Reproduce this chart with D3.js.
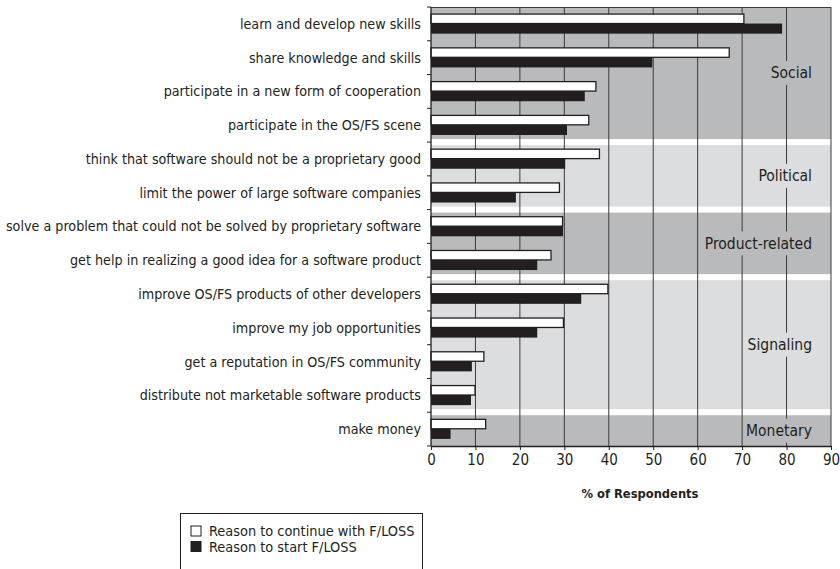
<!DOCTYPE html>
<head><meta charset="utf-8"/></head>
<style>
body { margin: 0; background: #fff; }
svg { font-family: "DejaVu Sans Condensed", sans-serif; }
.cat { font-size: 14.2px; fill: #231f20; }
.grp { font-size: 15.5px; fill: #231f20; }
.tick text { font-size: 15px; fill: #231f20; font-family: "DejaVu Sans Condensed", sans-serif; }
</style>
<script src="https://d3js.org/d3.v7.min.js"></script>
<body>
<div id="chart"></div>
</body>
<script>

var categories = [
    "learn and develop new skills",
    "share knowledge and skills",
    "participate in a new form of cooperation",
    "participate in the OS/FS scene",
    "think that software should not be a proprietary good",
    "limit the power of large software companies",
    "solve a problem that could not be solved by proprietary software",
    "get help in realizing a good idea for a software product",
    "improve OS/FS products of other developers",
    "improve my job opportunities",
    "get a reputation in OS/FS community",
    "distribute not marketable software products",
    "make money"
];
var continueVals = [70.4, 67.1, 37.1, 35.5, 37.9, 28.9, 29.6, 27.0, 39.8, 29.8, 11.9, 9.9, 12.3];
var startVals    = [79.0, 49.8, 34.6, 30.6, 30.2, 19.1, 29.7, 23.9, 33.8, 23.9, 9.2, 9.0, 4.4];

var groupNames = ["Social", "Political", "Product-related", "Signaling", "Monetary"];
var groupSizes = [4, 2, 2, 4, 1];
var xTicks = [0, 10, 20, 30, 40, 50, 60, 70, 80, 90];
var seriesNames = ["Reason to continue with F/LOSS", "Reason to start F/LOSS"];

var width = 840, height = 569;
var pLeft = 431, pRight = 831, pTop = 7, pBottom = 446;
var dark = "#b9babc", light = "#dcdddf", ink = "#231f20";

var svg = d3.select("#chart").append("svg")
    .attr("width", width)
    .attr("height", height);

var x = d3.scaleLinear().domain([0, 90]).range([pLeft, pRight]);
var y = d3.scaleBand().domain(categories).range([pTop, pBottom]);
var bw = y.bandwidth();

// group backgrounds
var groups = [];
var idx = 0;
groupNames.forEach(function(g, i) {
    groups.push({name: g, first: idx, last: idx + groupSizes[i] - 1, fill: i % 2 == 0 ? dark : light});
    idx += groupSizes[i];
});

function gTop(g) { return g.first == 0 ? pTop : y(categories[g.first]) + 3; }
function gBot(g) { return g.last == categories.length - 1 ? pBottom : y(categories[g.last]) + bw - 3; }

svg.selectAll(".bg")
    .data(groups)
    .enter().append("rect")
    .attr("class", "bg")
    .attr("x", pLeft)
    .attr("width", pRight - pLeft)
    .attr("y", gTop)
    .attr("height", function(g) { return gBot(g) - gTop(g); })
    .attr("fill", function(g) { return g.fill; });

// gridlines
svg.selectAll(".grid")
    .data(xTicks.slice(1))
    .enter().append("line")
    .attr("class", "grid")
    .attr("x1", x).attr("x2", x)
    .attr("y1", pTop).attr("y2", pBottom)
    .attr("stroke", "#3a3a3a")
    .attr("stroke-width", 1);

svg.append("line")
    .attr("x1", pLeft).attr("x2", pRight)
    .attr("y1", pTop + 0.5).attr("y2", pTop + 0.5)
    .attr("stroke", "#3a3a3a");

// group labels with a patch of background behind them
var gl = svg.selectAll(".glabel")
    .data(groups)
    .enter().append("g")
    .attr("class", "glabel")
    .attr("transform", function(g) { return "translate(812," + ((gTop(g) + gBot(g)) / 2) + ")"; });

gl.append("text")
    .attr("class", "grp")
    .attr("text-anchor", "end")
    .attr("dy", "0.35em")
    .text(function(g) { return g.name; });

gl.each(function(g) {
    var t = d3.select(this).select("text");
    var b = t.node().getBBox();
    d3.select(this).insert("rect", "text")
        .attr("x", b.x - 3).attr("width", b.width + 6)
        .attr("y", -12).attr("height", 24)
        .attr("fill", g.fill);
});

// bars
var rows = categories.map(function(c, i) { return {cat: c, cont: continueVals[i], start: startVals[i]}; });

svg.selectAll(".cont")
    .data(rows)
    .enter().append("rect")
    .attr("class", "cont")
    .attr("x", x(0))
    .attr("y", function(d) { return y(d.cat) + bw * 0.21; })
    .attr("width", function(d) { return x(d.cont) - x(0); })
    .attr("height", bw * 0.28)
    .attr("fill", "#fff")
    .attr("stroke", ink)
    .attr("stroke-width", 1.3);

svg.selectAll(".start")
    .data(rows)
    .enter().append("rect")
    .attr("class", "start")
    .attr("x", x(0))
    .attr("y", function(d) { return y(d.cat) + bw * 0.49; })
    .attr("width", function(d) { return x(d.start) - x(0); })
    .attr("height", bw * 0.3)
    .attr("fill", ink);

// left axis
svg.append("line")
    .attr("x1", pLeft).attr("x2", pLeft)
    .attr("y1", pTop).attr("y2", pBottom)
    .attr("stroke", ink).attr("stroke-width", 1.3);

var bounds = categories.map(function(c) { return y(c); }).concat([pBottom]);
svg.selectAll(".ytick")
    .data(bounds)
    .enter().append("line")
    .attr("class", "ytick")
    .attr("x1", pLeft - 4).attr("x2", pLeft)
    .attr("y1", function(d) { return d; }).attr("y2", function(d) { return d; })
    .attr("stroke", ink);

svg.selectAll(".cat")
    .data(categories)
    .enter().append("text")
    .attr("class", "cat")
    .attr("x", 421)
    .attr("y", function(c) { return y(c) + bw / 2; })
    .attr("dy", "0.35em")
    .attr("text-anchor", "end")
    .text(function(c) { return c; });

// bottom axis
var xAxis = svg.append("g")
    .attr("transform", "translate(0," + pBottom + ")")
    .call(d3.axisBottom(x).tickValues(xTicks).tickSize(4).tickPadding(4).tickSizeOuter(0));
xAxis.select(".domain").attr("stroke", ink).attr("stroke-width", 1.3);
xAxis.selectAll(".tick line").attr("stroke", ink);

svg.append("text")
    .attr("x", 640)
    .attr("y", 498)
    .attr("text-anchor", "middle")
    .style("font-size", "12.8px")
    .style("font-weight", "bold")
    .style("fill", ink)
    .text("% of Respondents");

// legend
var legend = svg.append("g").attr("transform", "translate(180,513)");
legend.append("rect")
    .attr("x", 0.5).attr("y", 0.5)
    .attr("width", 242).attr("height", 80)
    .attr("fill", "#fff")
    .attr("stroke", ink);

var items = legend.selectAll(".item")
    .data(seriesNames)
    .enter().append("g")
    .attr("transform", function(d, i) { return "translate(11," + (13 + i * 15.5) + ")"; });

items.append("rect")
    .attr("width", 10).attr("height", 10)
    .attr("fill", function(d, i) { return i == 0 ? "#fff" : ink; })
    .attr("stroke", ink);

items.append("text")
    .attr("x", 18)
    .attr("y", 5)
    .attr("dy", "0.35em")
    .style("font-size", "14.4px")
    .style("fill", ink)
    .text(function(d) { return d; });

</script>
